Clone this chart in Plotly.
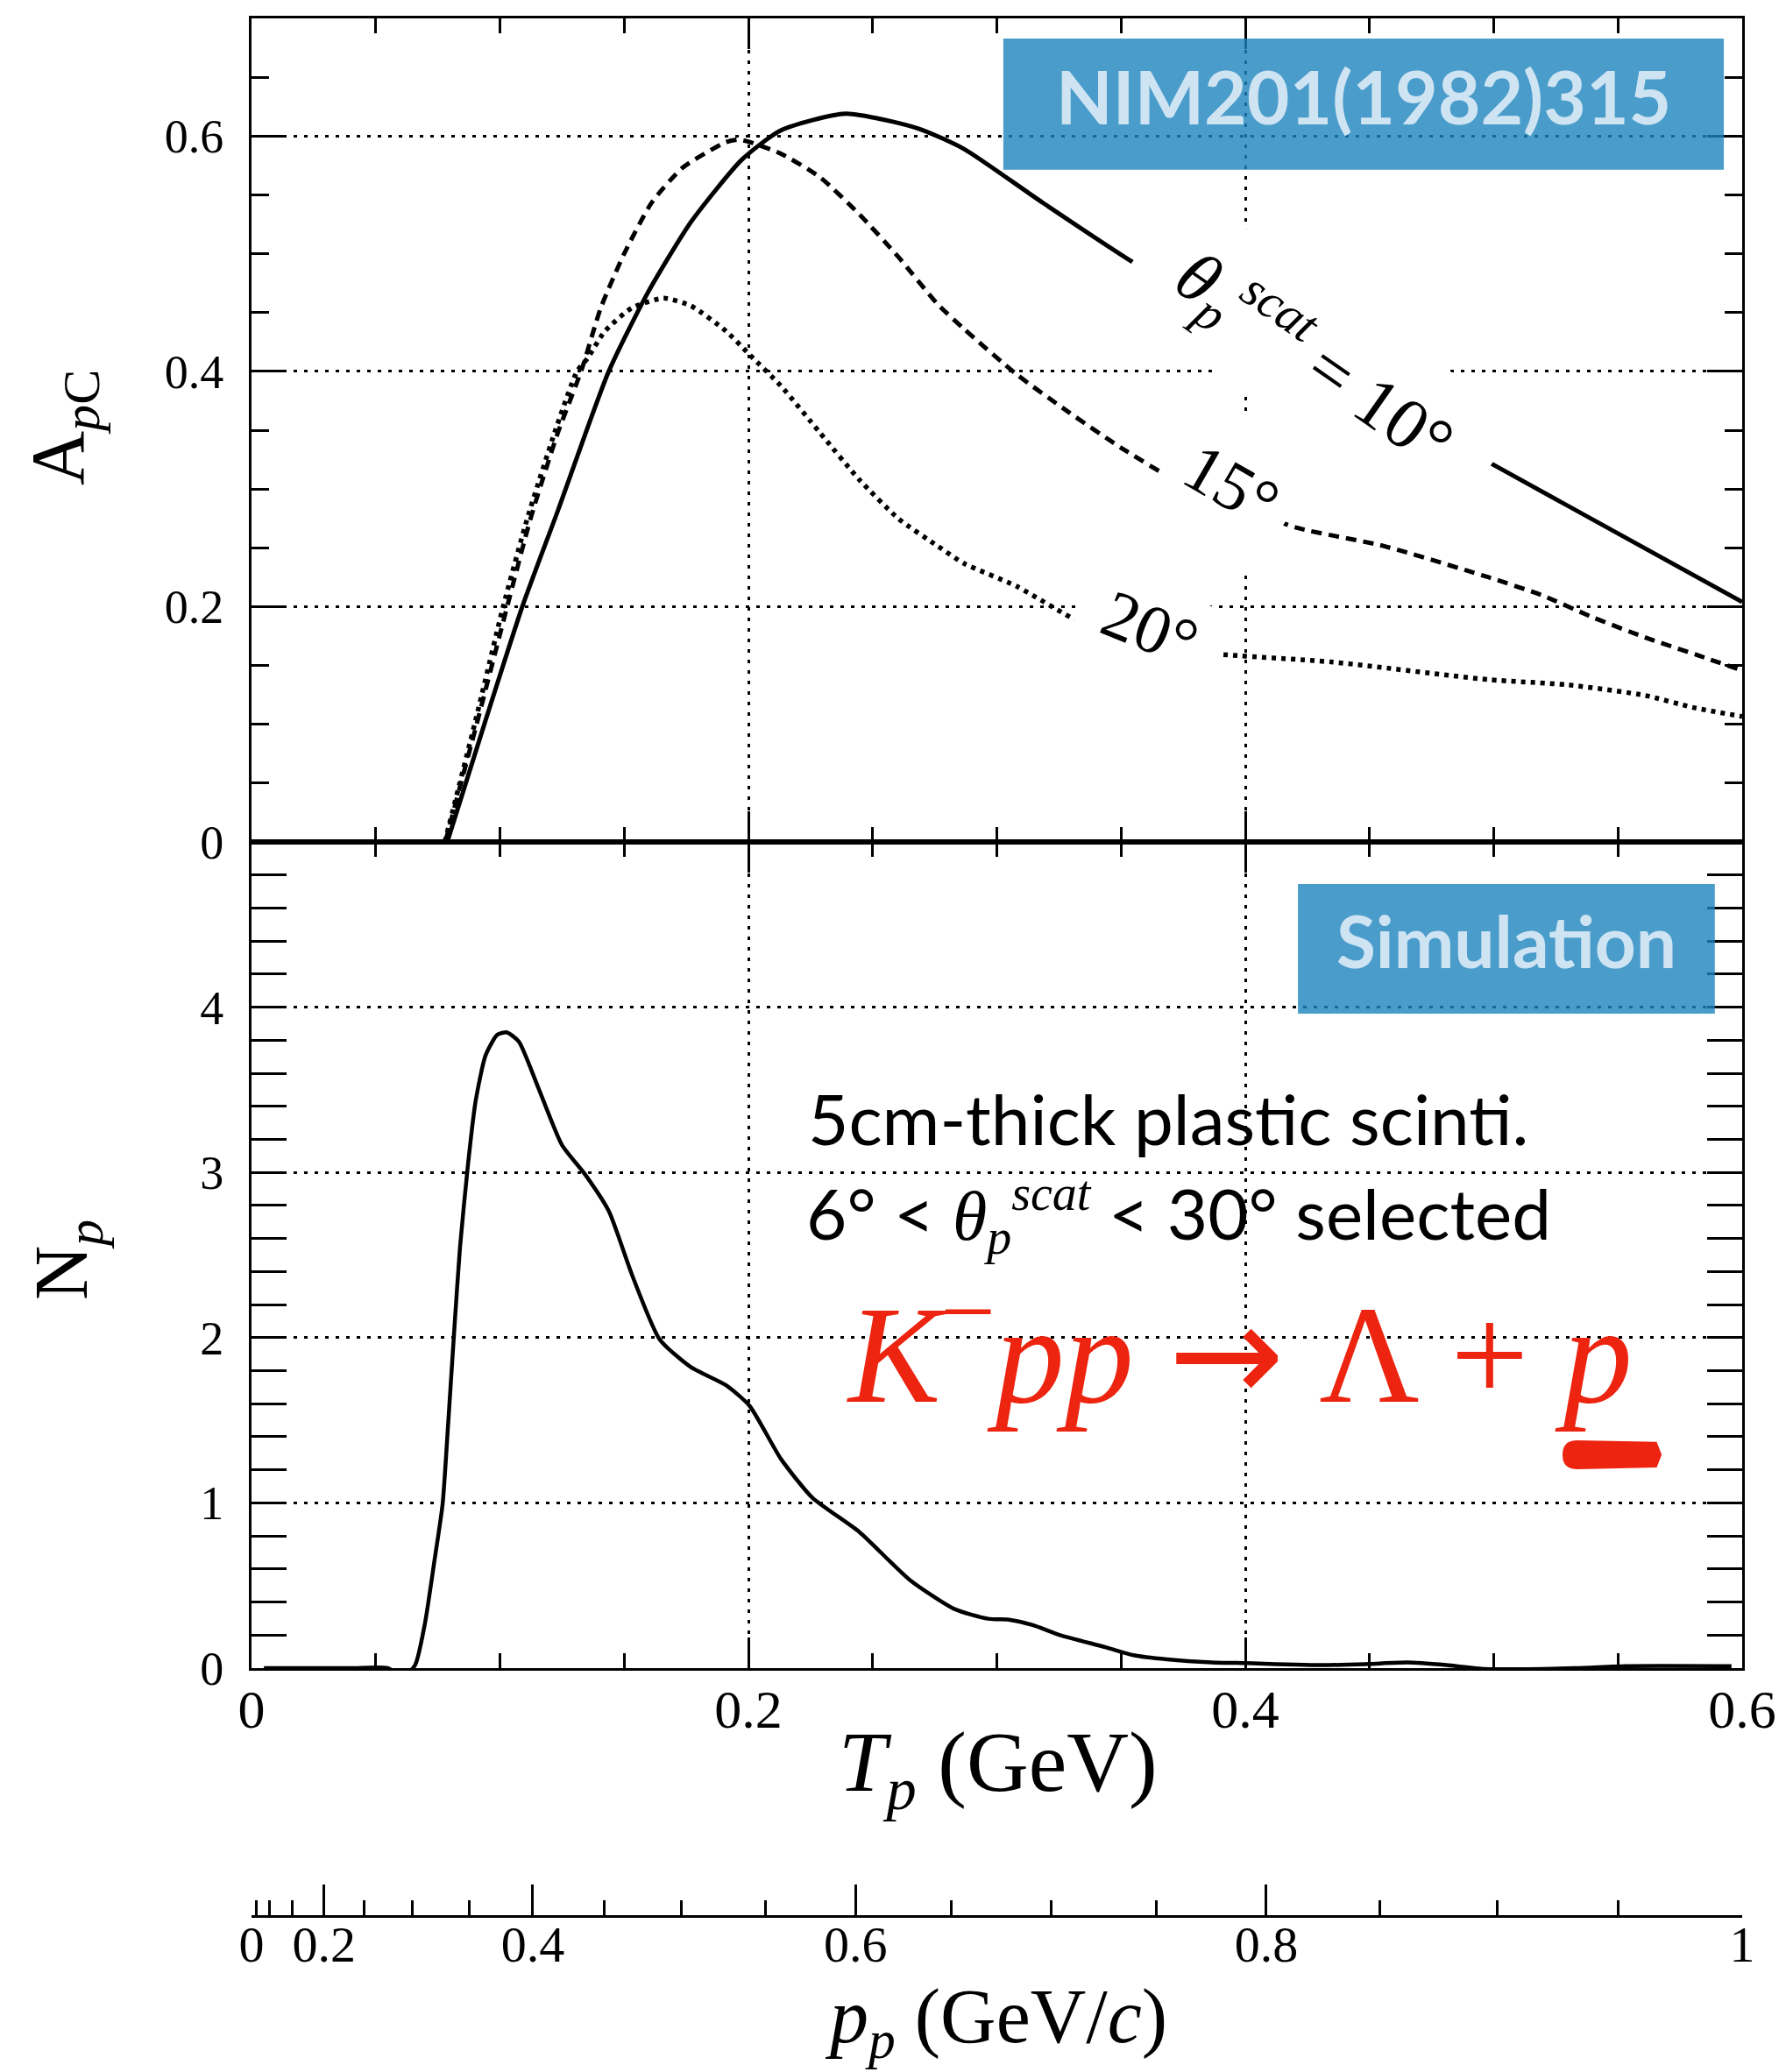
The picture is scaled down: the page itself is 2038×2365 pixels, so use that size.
import numpy as np
import plotly.graph_objects as go

# ---------------- data ----------------
# Top panel: analyzing power A_pC vs proton kinetic energy T_p (GeV)
T_10 = [0.0788, 0.0937, 0.109, 0.1233, 0.1438, 0.1596, 0.1769, 0.1974, 0.2131,
        0.2391, 0.2682, 0.2868, 0.3184, 0.3564, 0.43, 0.4995, 0.6]
A_10 = [0.0, 0.1, 0.2, 0.2815, 0.4, 0.4672, 0.527, 0.58, 0.6049,
        0.6191, 0.6065, 0.589, 0.5434, 0.4906, 0.4034, 0.321, 0.204]

T_15 = [0.0780, 0.0906, 0.1029, 0.1123, 0.1233, 0.1328, 0.1406, 0.1501, 0.1611,
        0.1737, 0.1911, 0.1958, 0.2005, 0.2131, 0.2288, 0.2446, 0.2604, 0.2761,
        0.2868, 0.3079, 0.329, 0.3501, 0.371, 0.395, 0.4208, 0.4556, 0.4977,
        0.519, 0.5399, 0.561, 0.5821, 0.6]
A_15 = [0.0, 0.1, 0.2, 0.2748, 0.3478, 0.4009, 0.454, 0.5004, 0.5435,
        0.5734, 0.5949, 0.597, 0.5949, 0.585, 0.565, 0.5336, 0.4971, 0.4573,
        0.436, 0.3975, 0.3652, 0.3349, 0.3085, 0.287, 0.267, 0.2516, 0.2251,
        0.21, 0.1909, 0.1738, 0.1587, 0.1457]

T_20 = [0.0778, 0.0898, 0.1013, 0.1110, 0.1220, 0.1310, 0.1352, 0.1422, 0.1532,
        0.1659, 0.1769, 0.1911, 0.2005, 0.2131, 0.2288, 0.2446, 0.2604, 0.2761,
        0.2868, 0.3079, 0.3333, 0.36, 0.387, 0.4345, 0.4978, 0.53, 0.561, 0.58, 0.6]
A_20 = [0.0, 0.1, 0.2, 0.2748, 0.3478, 0.4, 0.411, 0.434, 0.454,
        0.4622, 0.4556, 0.434, 0.4141, 0.3876, 0.3478, 0.308, 0.2748, 0.2516,
        0.2367, 0.2174, 0.187, 0.168, 0.16, 0.153, 0.138, 0.1335, 0.1245, 0.1144, 0.1066]

# Bottom panel: simulated number of protons N_p vs T_p
T_SIM = [0.005, 0.0399, 0.0548, 0.0612, 0.0659, 0.0698, 0.0737, 0.0769, 0.0792,
         0.0816, 0.0839, 0.0871, 0.0902, 0.0942, 0.0989, 0.1028, 0.1076, 0.1154,
         0.1249, 0.1343, 0.1438, 0.1532, 0.1643, 0.1768, 0.191, 0.2005, 0.213,
         0.2257, 0.2446, 0.265, 0.283, 0.2965, 0.3054, 0.3145, 0.3257, 0.3437,
         0.355, 0.3685, 0.3865, 0.4004, 0.4314, 0.4494, 0.4652, 0.481, 0.4966,
         0.5327, 0.553, 0.5957]
N_SIM = [0.0, 0.0, 0.0, -0.05, 0.02, 0.27, 0.657, 0.99, 1.49,
         2.045, 2.543, 3.043, 3.431, 3.708, 3.833, 3.847, 3.792, 3.514,
         3.168, 2.987, 2.766, 2.378, 1.989, 1.822, 1.712, 1.587, 1.268,
         1.032, 0.8245, 0.533, 0.357, 0.299, 0.292, 0.26, 0.198, 0.127,
         0.078, 0.053, 0.035, 0.030, 0.018, 0.025, 0.034, 0.018, -0.005,
         0.0, 0.012, 0.012]

# Axis ticks / labels
X_TICKS = [0, 0.2, 0.4, 0.6]
X_TICK_TEXT = ["0", "0.2", "0.4", "0.6"]
A_TICKS = [0, 0.2, 0.4, 0.6]
A_TICK_TEXT = ["0", "0.2", "0.4", "0.6"]
N_TICKS = [0, 1, 2, 3, 4]
N_TICK_TEXT = ["0", "1", "2", "3", "4"]
P_TICKS = [0, 0.2, 0.4, 0.6, 0.8, 1.0]
P_TICK_TEXT = ["0", "0.2", "0.4", "0.6", "0.8", "1"]
P_MINOR = [round(0.05 * i, 2) for i in range(21)]
M_PROTON = 0.938272  # GeV/c^2


def t_of_p(p):
    p = np.asarray(p, dtype=float)
    return np.sqrt(p ** 2 + M_PROTON ** 2) - M_PROTON


X_MINOR = [round(0.05 * i, 2) for i in range(13)]
A_MINOR = [round(0.05 * i, 2) for i in range(15)]
N_MINOR = [round(0.2 * i, 1) for i in range(26)]

# ---------------- figure ----------------
SERIF = "Liberation Serif, Times New Roman, serif"
SANS = "Lato, Open Sans, sans-serif"
BLACK = "black"
RED = "#EC2410"

fig = go.Figure()

fig.add_trace(go.Scatter(x=T_10, y=A_10, xaxis="x2", yaxis="y2", mode="lines",
                         line=dict(color=BLACK, width=5, shape="spline", smoothing=0.6),
                         name="10°", showlegend=False, hoverinfo="skip"))
fig.add_trace(go.Scatter(x=T_15, y=A_15, xaxis="x2", yaxis="y2", mode="lines",
                         line=dict(color=BLACK, width=5, dash="12px,8px", shape="spline", smoothing=0.6),
                         name="15°", showlegend=False, hoverinfo="skip"))
fig.add_trace(go.Scatter(x=T_20, y=A_20, xaxis="x2", yaxis="y2", mode="lines",
                         line=dict(color=BLACK, width=5.5, dash="5px,6px", shape="spline", smoothing=0.6),
                         name="20°", showlegend=False, hoverinfo="skip"))
fig.add_trace(go.Scatter(x=T_SIM, y=N_SIM, xaxis="x", yaxis="y", mode="lines",
                         line=dict(color=BLACK, width=4.5, shape="spline", smoothing=0.6),
                         name="Simulation", showlegend=False, hoverinfo="skip"))
# invisible trace to activate the momentum axis
fig.add_trace(go.Scatter(x=[0, float(t_of_p(1.0))], y=[None, None], xaxis="x3", yaxis="y",
                         mode="lines", showlegend=False, hoverinfo="skip"))

W, H = 2038, 2365
ML, MR, MT, MB = 287, 50, 21, 178
PH = H - MT - MB
y_bot0 = (H - MB - 1904) / PH
y_mid = (H - MB - 961) / PH

common_axis = dict(showline=True, linecolor=BLACK, linewidth=3, ticks="inside",
                   tickcolor=BLACK, tickwidth=2.5, mirror="allticks", zeroline=False,
                   showgrid=True, gridcolor=BLACK, gridwidth=2.5, griddash="4px,8px",
                   automargin=False)

fig.update_layout(
    width=W, height=H, autosize=False,
    margin=dict(l=ML, r=MR, t=MT, b=MB, pad=0),
    paper_bgcolor="white", plot_bgcolor="white",
    showlegend=False,
    xaxis=dict(common_axis, domain=[0, 1], range=[0, 0.6], anchor="y",
               tickmode="array", tickvals=X_TICKS, ticktext=X_TICK_TEXT, ticklen=35,
               minor=dict(tickvals=X_MINOR, ticklen=17, tickwidth=2.5, tickcolor=BLACK,
                          ticks="inside", showgrid=False),
               tickfont=dict(family=SERIF, size=62, color=BLACK), ticklabelstandoff=-9),
    xaxis2=dict(common_axis, domain=[0, 1], range=[0, 0.6], anchor="y2", matches="x",
                tickmode="array", tickvals=X_TICKS, ticktext=X_TICK_TEXT, ticklen=35,
                showticklabels=False,
                minor=dict(tickvals=X_MINOR, ticklen=17, tickwidth=2.5, tickcolor=BLACK,
                           ticks="inside", showgrid=False)),
    xaxis3=dict(overlaying="x", anchor="free", position=0, side="bottom",
                range=[0, float(t_of_p(1.0))], showline=True, linecolor=BLACK, linewidth=3,
                ticks="inside", tickcolor=BLACK, tickwidth=2.5, ticklen=35,
                tickmode="array", tickvals=[float(v) for v in t_of_p(P_TICKS)], ticktext=P_TICK_TEXT,
                minor=dict(tickvals=[float(v) for v in t_of_p(P_MINOR)], ticklen=17, tickwidth=2.5,
                           tickcolor=BLACK, ticks="inside", showgrid=False),
                showgrid=False, zeroline=False, automargin=False,
                tickfont=dict(family=SERIF, size=58, color=BLACK), ticklabelstandoff=-20),
    yaxis=dict(common_axis, domain=[y_bot0, y_mid], range=[0, 5], anchor="x",
               tickmode="array", tickvals=N_TICKS, ticktext=N_TICK_TEXT, ticklen=40,
               minor=dict(tickvals=N_MINOR, ticklen=20, tickwidth=2.5, tickcolor=BLACK,
                          ticks="inside", showgrid=False),
               tickfont=dict(family=SERIF, size=54, color=BLACK), ticklabelstandoff=18),
    yaxis2=dict(common_axis, domain=[y_mid, 1], range=[0, 0.7], anchor="x2",
                tickmode="array", tickvals=A_TICKS, ticktext=A_TICK_TEXT, ticklen=40,
                minor=dict(tickvals=A_MINOR, ticklen=20, tickwidth=2.5, tickcolor=BLACK,
                           ticks="inside", showgrid=False),
                tickfont=dict(family=SERIF, size=54, color=BLACK), ticklabelstandoff=18),
)

# ---- blue boxes ----
BOX_FILL = "rgba(29,131,190,0.8)"
BOX_TEXT = "#CFE4F2"
fig.add_shape(type="rect", xref="x2", yref="y2", x0=0.3026, x1=0.5926, y0=0.5713, y1=0.6828,
              fillcolor=BOX_FILL, line=dict(width=0), layer="above")
fig.add_shape(type="rect", xref="x", yref="y", x0=0.4212, x1=0.589, y0=3.961, y1=4.745,
              fillcolor=BOX_FILL, line=dict(width=0), layer="above")
fig.add_annotation(xref="x2", yref="y2", x=0.4476, y=0.627, text="NIM201(1982)315",
                   showarrow=False, xanchor="center", yanchor="middle", yshift=10,
                   font=dict(family=SANS, size=84, color=BOX_TEXT, weight=700))
fig.add_annotation(xref="x", yref="y", x=0.5051, y=4.353, text="Simulation",
                   showarrow=False, xanchor="center", yanchor="middle", yshift=10,
                   font=dict(family=SANS, size=82, color=BOX_TEXT, weight=700))

# ---- curve labels (white background hides line/grid underneath) ----
fig.add_annotation(xref="x2", yref="y2", x=0.4279, y=0.4108,
                   text="<i>θ</i><sub><i>p</i></sub><sup><i>scat</i></sup> = 10°",
                   showarrow=False, textangle=35, width=465, height=150,
                   bgcolor="white", xanchor="center", yanchor="middle",
                   font=dict(family=SERIF, size=82, color=BLACK))
fig.add_annotation(xref="x2", yref="y2", x=0.3944, y=0.3036, text="15°",
                   showarrow=False, textangle=30, width=145, height=150,
                   bgcolor="white", xanchor="center", yanchor="middle",
                   font=dict(family=SERIF, size=78, color=BLACK))
fig.add_annotation(xref="x2", yref="y2", x=0.3616, y=0.182, text="20°",
                   showarrow=False, textangle=22, width=165, height=95,
                   bgcolor="white", xanchor="center", yanchor="middle",
                   font=dict(family=SERIF, size=78, color=BLACK))

# ---- bottom panel texts ----
fig.add_annotation(xref="x", yref="y", x=0.2233, y=3.33, text="5cm-thick plastic scinti.",
                   showarrow=False, xanchor="left", yanchor="middle",
                   font=dict(family=SANS, size=80, color=BLACK))
fig.add_annotation(xref="x", yref="y", x=0.2226, y=2.74,
                   text="6° &lt; <span style='font-family:Liberation Serif'><i>θ</i><sub><i>p</i></sub>"
                        "<sup><i>scat</i></sup></span> &lt; 30° selected",
                   showarrow=False, xanchor="left", yanchor="middle",
                   font=dict(family=SANS, size=80, color=BLACK))
fig.add_annotation(xref="x", yref="y", x=0.2388, y=1.95,
                   text="<i>K</i><sup>−</sup><i>pp</i> <span style='font-family:DejaVu Sans'>→</span>"
                        " Λ + <i>p</i>",
                   showarrow=False, xanchor="left", yanchor="middle",
                   font=dict(family=SERIF, size=158, color=RED))
# red brush-stroke mark under the final proton
bx0, bx1, by0, by1 = 0.5277, 0.5676, 1.204, 1.379
rx, ry = 0.006, 0.085
fig.add_shape(type="path", xref="x", yref="y", layer="above",
              path=(f"M {bx0+rx},{by1} L {bx1-0.002},{by1-0.01} L {bx1},{(by0+by1)/2} "
                    f"L {bx1-0.002},{by0+0.01} L {bx0+rx},{by0} "
                    f"Q {bx0},{by0} {bx0},{by0+ry} L {bx0},{by1-ry} Q {bx0},{by1} {bx0+rx},{by1} Z"),
              fillcolor=RED, line=dict(width=0))

# ---- axis titles ----
def px_to_paper_x(px):
    return (px - ML) / (W - ML - MR)


def px_to_paper_y(py):
    return (H - MB - py) / PH


fig.add_annotation(xref="paper", yref="paper", x=px_to_paper_x(72), y=px_to_paper_y(488),
                   text="A<sub><i>p</i>C</sub>", textangle=-90, showarrow=False,
                   xanchor="center", yanchor="middle",
                   font=dict(family=SERIF, size=86, color=BLACK))
fig.add_annotation(xref="paper", yref="paper", x=px_to_paper_x(76), y=px_to_paper_y(1438),
                   text="N<sub><i>p</i></sub>", textangle=-90, showarrow=False,
                   xanchor="center", yanchor="middle",
                   font=dict(family=SERIF, size=86, color=BLACK))
fig.add_annotation(xref="paper", yref="paper", x=px_to_paper_x(1139), y=px_to_paper_y(2018),
                   text="<i>T</i><sub><i>p</i></sub> (GeV)", showarrow=False,
                   xanchor="center", yanchor="middle",
                   font=dict(family=SERIF, size=98, color=BLACK))
fig.add_annotation(xref="paper", yref="paper", x=px_to_paper_x(1136), y=px_to_paper_y(2307),
                   text="<i>p</i><sub><i>p</i></sub> (GeV/<i>c</i>)", showarrow=False,
                   xanchor="center", yanchor="middle",
                   font=dict(family=SERIF, size=88, color=BLACK))

fig.write_html("out.html")
